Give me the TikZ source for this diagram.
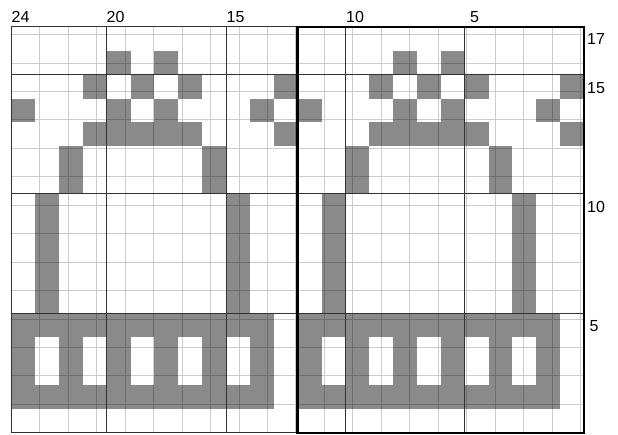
\documentclass[tikz,border=0pt]{standalone}
\usepackage{fontspec}
\setmainfont{Liberation Sans}
\definecolor{chartgray}{RGB}{138,138,138}
\definecolor{gridgray}{RGB}{200,200,200}
\definecolor{majorline}{RGB}{50,50,50}
\tikzset{
  cellfill/.style={fill=chartgray},
  gridline/.style={draw=black, draw opacity=0.2, line width=0.6pt},
  majorrule/.style={draw=majorline, line width=1pt},
  repeatbox/.style={draw=black, line width=2.3pt},
  numlabel/.style={inner sep=0pt, font=\fontsize{16}{16}\selectfont}
}
\begin{document}
\begin{tikzpicture}[x=1pt,y=1pt]
\useasboundingbox (0,0) rectangle (618,434);
\begin{scope}[shift={(11.2,1.3)}, x=23.87pt, y=23.87pt]
  % filled cells (pattern repeats every 12 stitches)
  \foreach \k in {0,12}{
    \foreach \c/\r in {8/16,6/16,9/15,7/15,5/15,1/15,12/14,8/14,6/14,2/14,
                       9/13,8/13,7/13,6/13,5/13,1/13,10/12,4/12,10/11,4/11}
      \fill[cellfill] ({24-\c-\k},{\r-1}) rectangle ++(1,1);
    \fill[cellfill] ({24-11-\k},5) rectangle ++(1,5);
    \fill[cellfill] ({24-3-\k},5) rectangle ++(1,5);
    \fill[cellfill] ({12-\k},1) rectangle ({23-\k},5);
    \foreach \c in {11,9,7,5,3}
      \fill[white] ({24-\c-\k},2) rectangle ++(1,2);
  }
  % grid
  \draw[gridline] (0,0) grid (24,17);
  % major lines every 5
  \foreach \x in {4,9,14,19} \draw[majorrule] (\x,0) -- (\x,17);
  \foreach \y in {5,10,15} \draw[majorrule] (0,\y) -- (24,\y);
  \draw[majorrule] (0,0) rectangle (24,17);
  % repeat box
  \draw[repeatbox] (12,0) rectangle (24,17);
\end{scope}
% column numbers
\node[numlabel, anchor=base west] (c24) at (11.5,411.3) {24};
\node[numlabel, anchor=base west] (c20) at (106.5,411.3) {20};
\node[numlabel, anchor=base west] (c15) at (226.5,411.3) {15};
\node[numlabel, anchor=base west] (c10) at (346,411.3) {10};
\node[numlabel, anchor=base west] (c5)  at (470,411.3) {5};
% row numbers
\node[numlabel, anchor=west] (r17) at (587,395) {17};
\node[numlabel, anchor=west] (r15) at (587,346) {15};
\node[numlabel, anchor=west] (r10) at (587,227.5) {10};
\node[numlabel, anchor=west] (r5)  at (589.5,107.5) {5};
\end{tikzpicture}
\end{document}
